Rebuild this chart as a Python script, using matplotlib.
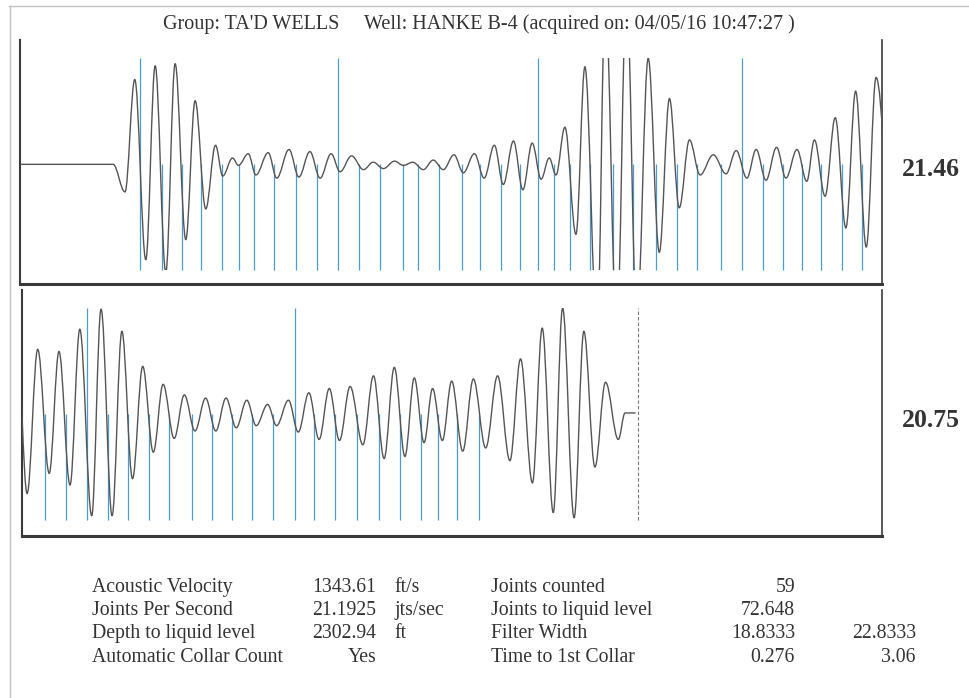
import numpy as np
import matplotlib.pyplot as plt
from matplotlib.path import Path
from matplotlib.patches import PathPatch, Rectangle
from matplotlib.lines import Line2D

# Registro acustico: extremos de la onda (tiempo en s, amplitud normalizada)
top_t = [0.000, 0.219, 0.247, 0.270, 0.296, 0.318, 0.343, 0.365, 0.390, 0.412,
         0.437, 0.460, 0.477, 0.500, 0.514, 0.537, 0.555, 0.584, 0.604, 0.633,
         0.656, 0.682, 0.706, 0.732, 0.753, 0.780, 0.808, 0.831, 0.855, 0.881,
         0.902, 0.924, 0.949, 0.972, 0.996, 1.021, 1.043, 1.069, 1.092, 1.116,
         1.137, 1.161, 1.183, 1.205, 1.226, 1.245, 1.261, 1.282, 1.308, 1.329,
         1.358, 1.377, 1.404, 1.427, 1.451, 1.478, 1.504, 1.528, 1.551, 1.575,
         1.600, 1.631, 1.661, 1.685, 1.710, 1.732, 1.755, 1.780, 1.802, 1.828,
         1.851, 1.869, 1.894, 1.918, 1.943, 1.966, 1.991, 2.014, 2.056]
top_a = [0.00, 0.00, -0.26, 0.80, -0.90, 0.93, -1.02, 0.95, -0.71, 0.60,
         -0.42, 0.18, -0.11, 0.06, -0.01, 0.10, -0.10, 0.11, -0.13, 0.14,
         -0.12, 0.12, -0.13, 0.10, -0.07, 0.08, -0.05, 0.02, -0.04, 0.03,
         -0.01, 0.02, -0.05, 0.04, -0.05, 0.09, -0.08, 0.10, -0.13, 0.18,
         -0.19, 0.22, -0.24, 0.20, -0.14, 0.06, -0.10, 0.35, -0.66, 0.92,
         -1.60, 1.60, -1.60, 1.65, -1.50, 1.00, -0.83, 0.62, -0.41, 0.23,
         -0.10, 0.09, -0.09, 0.13, -0.13, 0.14, -0.15, 0.16, -0.13, 0.14,
         -0.16, 0.23, -0.30, 0.44, -0.60, 0.69, -0.78, 0.82, -0.86]

bot_t = [2.016, 2.040, 2.065, 2.092, 2.115, 2.141, 2.164, 2.192, 2.214, 2.240,
         2.263, 2.288, 2.312, 2.337, 2.360, 2.386, 2.410, 2.435, 2.460, 2.484,
         2.508, 2.532, 2.557, 2.579, 2.606, 2.627, 2.655, 2.678, 2.703, 2.727,
         2.751, 2.775, 2.800, 2.830, 2.855, 2.880, 2.904, 2.929, 2.951, 2.974,
         2.994, 3.017, 3.039, 3.065, 3.090, 3.119, 3.147, 3.176, 3.201, 3.229,
         3.252, 3.278, 3.300, 3.327, 3.350, 3.376, 3.401, 3.431, 3.447, 3.472]
bot_a = [0.74, -0.75, 0.61, -0.56, 0.59, -0.67, 0.80, -0.96, 0.99, -0.96,
         0.78, -0.61, 0.45, -0.36, 0.28, -0.23, 0.18, -0.16, 0.15, -0.16,
         0.15, -0.13, 0.13, -0.11, 0.09, -0.11, 0.13, -0.17, 0.20, -0.24,
         0.24, -0.25, 0.26, -0.29, 0.36, -0.42, 0.44, -0.40, 0.34, -0.27,
         0.24, -0.25, 0.31, -0.35, 0.33, -0.32, 0.36, -0.44, 0.52, -0.65,
         0.81, -0.93, 1.00, -0.98, 0.78, -0.50, 0.30, -0.24, 0.01, 0.01]

# Cuplas detectadas (tiempo en s) y las marcadas cada 10
collar_times = [0.282, 0.334, 0.381, 0.426, 0.475, 0.515, 0.551, 0.598, 0.649, 0.699,
                0.748, 0.798, 0.847, 0.901, 0.936, 0.986, 1.040, 1.082, 1.132, 1.176,
                1.219, 1.256, 1.294, 1.341, 1.395, 1.442, 1.496, 1.546, 1.593, 1.649,
                1.699, 1.748, 1.795, 1.840, 1.885, 1.934, 1.981,
                2.082, 2.132, 2.181, 2.230, 2.277, 2.327, 2.374, 2.428, 2.475, 2.522,
                2.569, 2.619, 2.670, 2.715, 2.764, 2.816, 2.868, 2.917, 2.967, 3.007,
                3.052, 3.103]
marked_joints = [1, 11, 21, 31, 40, 50]
liquid_time = 3.477

panel_labels = ["21.46", "20.75"]

title = "Group: TA'D WELLS     Well: HANKE B-4 (acquired on: 04/05/16 10:47:27 )"

left_labels = ["Acoustic Velocity", "Joints Per Second", "Depth to liquid level", "Automatic Collar Count"]
left_values = ["1343.61", "21.1925", "2302.94", "Yes"]
left_units = ["ft/s", "jts/sec", "ft", ""]
right_labels = ["Joints counted", "Joints to liquid level", "Filter Width", "Time to 1st Collar"]
right_values = ["59", "72.648", "18.8333", "0.276"]
right_extra = ["", "", "22.8333", "3.06"]

W, H = 969, 698
SERIF = 'Liberation Serif'
INK = '#333333'
BLUE = '#4d9bd1'
FRAME = '#3a3a3a'


def px(x, y):
    return x / W, 1 - y / H


def wave_path(t, a, k=0.3634):
    # curva suave entre extremos (tangente horizontal en cada extremo)
    verts = [(t[0], a[0])]
    codes = [Path.MOVETO]
    for i in range(1, len(t)):
        dt = t[i] - t[i - 1]
        verts += [(t[i - 1] + k * dt, a[i - 1]), (t[i] - k * dt, a[i]), (t[i], a[i])]
        codes += [Path.CURVE4] * 3
    return Path(verts, codes)


def panel(box, tlim, ylim, t, a):
    x0, y0, x1, y1 = box
    ax = fig.add_axes([x0 / W, 1 - y1 / H, (x1 - x0) / W, (y1 - y0) / H])
    ax.spines['top'].set_visible(False)
    ax.spines['left'].set_linewidth(1.5)
    ax.spines['bottom'].set_linewidth(2.2)
    ax.spines['right'].set_linewidth(1.2)
    for s in ['left', 'bottom', 'right']:
        ax.spines[s].set_color(FRAME)
    ax.set_xticks([])
    ax.set_yticks([])

    for n, tc in enumerate(collar_times, start=1):
        if tlim[0] <= tc <= tlim[1]:
            top = 1.0 if n in marked_joints else 0.0
            ax.vlines(tc, -1.0, top, colors=BLUE, lw=0.9, zorder=2)

    patch = PathPatch(wave_path(t, a), facecolor='none', edgecolor='#555555',
                      lw=1.0, zorder=3)
    ax.add_patch(patch)
    patch.set_clip_path(Rectangle((tlim[0], -1.0), tlim[1] - tlim[0], 2.0,
                                  transform=ax.transData))
    ax.set_xlim(*tlim)
    ax.set_ylim(*ylim)
    return ax


fig = plt.figure(figsize=(W / 100, H / 100), dpi=100)

ax1 = panel((20, 40, 882, 284), (0.0, 2.028), (-1.129, 1.173), top_t, top_a)
ax2 = panel((22, 290, 882, 536), (2.028, 4.0515), (-1.151, 1.170), bot_t, bot_a)
ax2.vlines(liquid_time, -1.0, 1.0, colors='#777777', lw=0.8, linestyles=(0, (3, 2)), zorder=2)

# marco de la hoja escaneada
fig.add_artist(Line2D([9 / W, 1.0], [1 - 6 / H, 1 - 6 / H], color='#c4c4c4', lw=1.0))
fig.add_artist(Line2D([10 / W, 10 / W], [1 - 6 / H, 0.0], color='#c4c4c4', lw=1.0))

fig.text(*px(479, 29.5), title, ha='center', va='baseline', fontsize=14.5,
         family=SERIF, color=INK)

for lab, yb in zip(panel_labels, [175.7, 426.7]):
    fig.text(*px(931, yb), lab, ha='center', va='baseline', fontsize=18.5,
             fontweight='bold', family=SERIF, color=INK)

rows_y = [591.7, 615.0, 638.3, 661.7]
for i, yb in enumerate(rows_y):
    fig.text(*px(92, yb), left_labels[i], ha='left', va='baseline', fontsize=14.2, family=SERIF, color=INK)
    fig.text(*px(376, yb), left_values[i], ha='right', va='baseline', fontsize=14.2, family=SERIF, color=INK)
    fig.text(*px(394, yb), left_units[i], ha='left', va='baseline', fontsize=14.2, family=SERIF, color=INK)
    fig.text(*px(491, yb), right_labels[i], ha='left', va='baseline', fontsize=14.2, family=SERIF, color=INK)
    fig.text(*px(795, yb), right_values[i], ha='right', va='baseline', fontsize=14.2, family=SERIF, color=INK)
    fig.text(*px(916, yb), right_extra[i], ha='right', va='baseline', fontsize=14.2, family=SERIF, color=INK)

fig.savefig('out.png', dpi=100)
